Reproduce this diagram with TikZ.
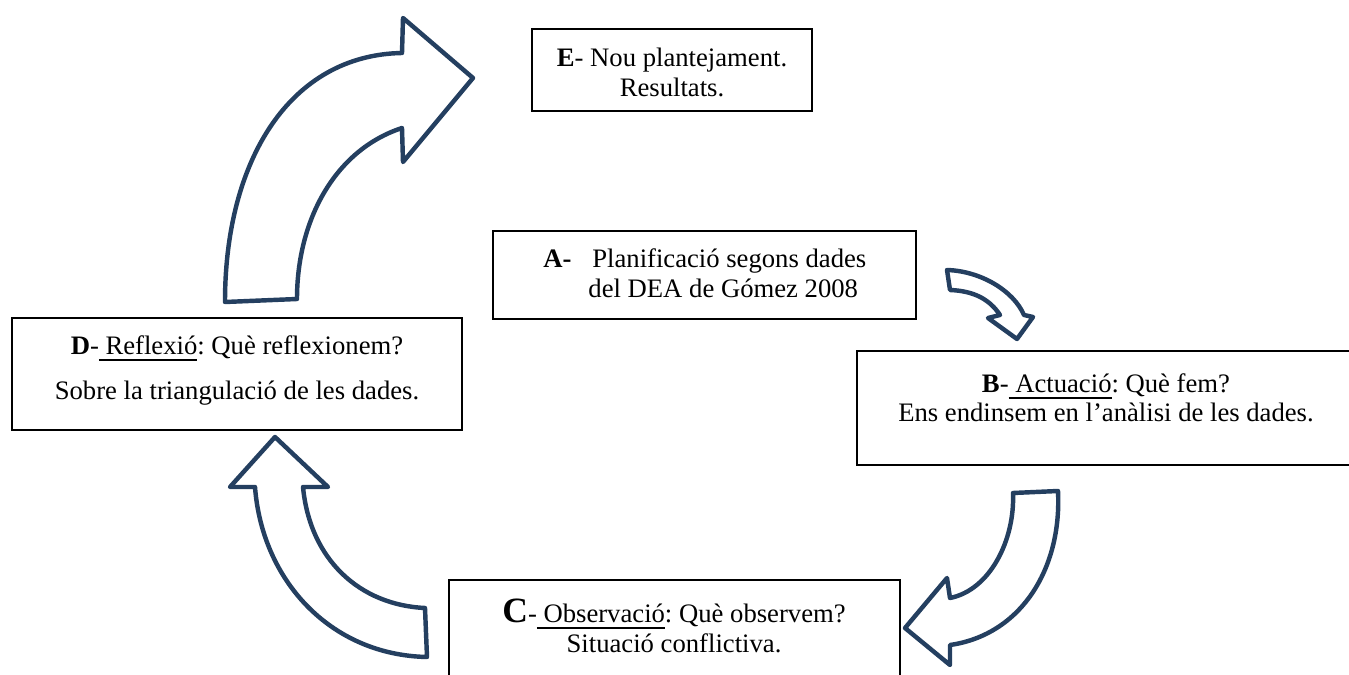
\documentclass[tikz,border=0pt]{standalone}
\usepackage{fontspec}
\setmainfont{Liberation Serif}
\usetikzlibrary{fit}
\definecolor{arrowblue}{RGB}{36,63,96}
\frenchspacing
% underline with a fixed depth, independent of descenders such as the cedilla
\newcommand\undl[1]{\setbox0\hbox{#1}\rlap{\rule[-2.7pt]{\wd0}{0.7pt}}\box0}

\begin{document}
\begin{tikzpicture}[x=0.45pt,y=-0.45pt,
  box/.style={draw=black, line width=0.8pt, inner sep=0pt, rectangle},
  txt/.style={inner sep=0pt, anchor=base, font=\fontsize{12}{14}\selectfont},
  curvedarrow/.style={draw=arrowblue, fill=white, line width=2pt, line join=round}]
\clip (0,0) rectangle (1349,675);

% E box
\node[box, fit={(532,29) (812,111)}] (boxE) {};
\node[txt] (E1) at (672,67) {\textbf{E}- Nou plantejament.};
\node[txt] (E2) at (672,97) {Resultats.};

% A box
\node[box, fit={(493,231) (916,319)}] (boxA) {};
\node[txt, anchor=base west] (A1) at (543,268) {\makebox[22pt][l]{\textbf{A-}}Planificació segons dades};
\node[txt, anchor=base west] (A2) at (588,298) {del DEA de Gómez 2008};

% B box
\node[box, fit={(857,351) (1358,465)}] (boxB) {};
\node[txt] (B1) at (1106,393) {\textbf{B}-\undl{\ Actuació}: Què fem?};
\node[txt] (B2) at (1106,422) {Ens endinsem en l’anàlisi de les dades.};

% C box
\node[box, fit={(449,580) (900,690)}] (boxC) {};
\node[txt] (C1) at (674,623) {{\fontsize{16}{16}\selectfont\textbf{C}}-\undl{\ Observació}: Què observem?};
\node[txt] (C2) at (674,653) {Situació conflictiva.};

% D box
\node[box, fit={(12,318) (462,430)}] (boxD) {};
\node[txt] (D1) at (237,355) {\textbf{D}-\undl{\ Reflexió}: Què reflexionem?};
\node[txt] (D2) at (237,400) {Sobre la triangulació de les dades.};

% curved block arrows of the cycle
% D -> E
\draw[curvedarrow] (225,302) .. controls (225,160) and (290,55) .. (402,53)
  -- (403,18) -- (473,78) -- (403,162) -- (402,128)
  .. controls (335,150) and (297,220) .. (297,299) -- cycle;
% A -> B
\draw[curvedarrow] (947,270) .. controls (980,271) and (1013,290) .. (1024,315)
  -- (1033,317) -- (1017,339) -- (988,318) -- (1000,315)
  .. controls (990,300) and (975,291) .. (950,290) -- cycle;
% B -> C
\draw[curvedarrow] (1013,493) -- (1058,491)
  .. controls (1062,570) and (1020,635) .. (950,645)
  -- (950,665) -- (905,628) -- (947,578) -- (950,598)
  .. controls (990,590) and (1015,540) .. (1013,493) -- cycle;
% C -> D
\draw[curvedarrow] (427,657) .. controls (330,655) and (262,580) .. (255,487)
  -- (230,487) -- (275,437) -- (328,487) -- (303,487)
  .. controls (310,560) and (360,605) .. (425,608) -- cycle;
\end{tikzpicture}
\end{document}
